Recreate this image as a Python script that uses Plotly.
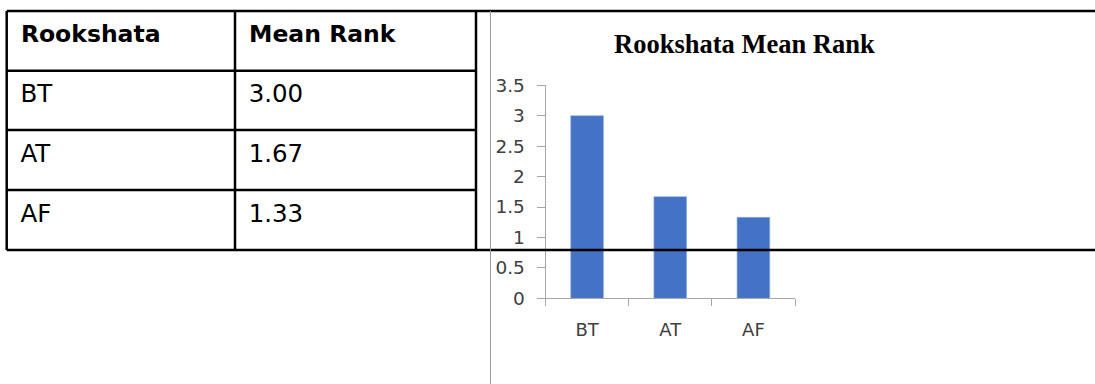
import plotly.graph_objects as go

# ---- data ----
categories = ["BT", "AT", "AF"]
mean_rank = [3.00, 1.67, 1.33]
table_header = ["Rookshata", "Mean Rank"]
table_values = ["3.00", "1.67", "1.33"]
chart_title = "Rookshata Mean Rank"
y_ticks = [0, 0.5, 1, 1.5, 2, 2.5, 3, 3.5]

W, H = 1095, 384
px = lambda x: x / W
py = lambda y: 1 - y / H

NB = "\u00a0"

# table geometry (pixels)
tbl_left, tbl_mid, tbl_right = 6.7, 235, 476
tbl_top, tbl_bottom = 11, 250
row_lines = [70.7, 130, 190]
dx, dy = -2, 5.5  # text offset inside cells

fig = go.Figure()

# table (text)
fig.add_trace(go.Table(
    domain=dict(x=[px(tbl_left + dx), px(tbl_right + dx)],
                y=[py(tbl_bottom + dy + 0.5), py(tbl_top + dy - 0.5)]),
    columnwidth=[tbl_mid - tbl_left, tbl_right - tbl_mid],
    header=dict(
        values=[NB + h for h in table_header],
        align="left",
        height=60,
        fill_color="rgba(0,0,0,0)",
        line=dict(color="rgba(0,0,0,0)", width=0),
        font=dict(family="DejaVu Sans", size=23.5, color="black", weight="bold"),
    ),
    cells=dict(
        values=[[NB + c for c in categories], [NB + v for v in table_values]],
        align="left",
        height=60,
        fill_color="rgba(0,0,0,0)",
        line=dict(color="rgba(0,0,0,0)", width=0),
        font=dict(family="DejaVu Sans", size=24.5, color="black"),
    ),
))

# bar chart
fig.add_trace(go.Bar(
    x=categories, y=mean_rank,
    marker=dict(color="#4472C4", line=dict(color="#8FAADC", width=0.6)),
    xaxis="x", yaxis="y",
))

axis_gray = "#A6A6A6"
lw = 2.5
shapes = []
# full-width top and bottom rules
for yy in (tbl_top, tbl_bottom):
    shapes.append(dict(type="line", xref="paper", yref="paper", x0=px(tbl_left), x1=1,
                       y0=py(yy), y1=py(yy), line=dict(color="black", width=lw), layer="above"))
# inner row rules
for yy in row_lines:
    shapes.append(dict(type="line", xref="paper", yref="paper", x0=px(tbl_left), x1=px(tbl_right),
                       y0=py(yy), y1=py(yy), line=dict(color="black", width=lw), layer="above"))
# vertical rules
for xx in (tbl_left, tbl_mid, tbl_right):
    shapes.append(dict(type="line", xref="paper", yref="paper", x0=px(xx), x1=px(xx),
                       y0=py(tbl_top), y1=py(tbl_bottom), line=dict(color="black", width=lw), layer="above"))
# thin gray page rule
shapes.append(dict(type="line", xref="paper", yref="paper", x0=px(490.5), x1=px(490.5),
                   y0=py(tbl_top), y1=0, line=dict(color="#9A9A9A", width=1), layer="above"))

fig.update_layout(
    template="none",
    width=W, height=H,
    autosize=False,
    margin=dict(l=0, r=0, t=0, b=0, pad=0, autoexpand=False),
    paper_bgcolor="white", plot_bgcolor="white",
    showlegend=False,
    bargap=0.607,
    xaxis=dict(
        domain=[px(545.5), px(795)],
        type="category",
        automargin=False,
        showline=True, linecolor=axis_gray, linewidth=1,
        ticks="outside", tickson="boundaries", ticklen=7, tickcolor=axis_gray,
        showgrid=False, zeroline=False,
        tickfont=dict(family="DejaVu Sans", size=18, color="#404040"),
        ticklabelstandoff=15,
    ),
    yaxis=dict(
        domain=[py(298.3), py(85.3)],
        range=[0, 3.5],
        tickvals=y_ticks,
        automargin=False,
        showline=True, linecolor=axis_gray, linewidth=1,
        ticks="outside", ticklen=8, tickcolor=axis_gray,
        showgrid=False, zeroline=False,
        tickfont=dict(family="DejaVu Sans", size=18.5, color="#404040"),
        ticklabelstandoff=8,
    ),
    annotations=[dict(
        text=chart_title, xref="paper", yref="paper",
        x=px(744.5), y=py(44), xanchor="center", yanchor="middle",
        showarrow=False,
        font=dict(family="Liberation Serif", size=26.5, color="black", weight="bold"),
    )],
    shapes=shapes,
)

fig.write_html("out.html")
